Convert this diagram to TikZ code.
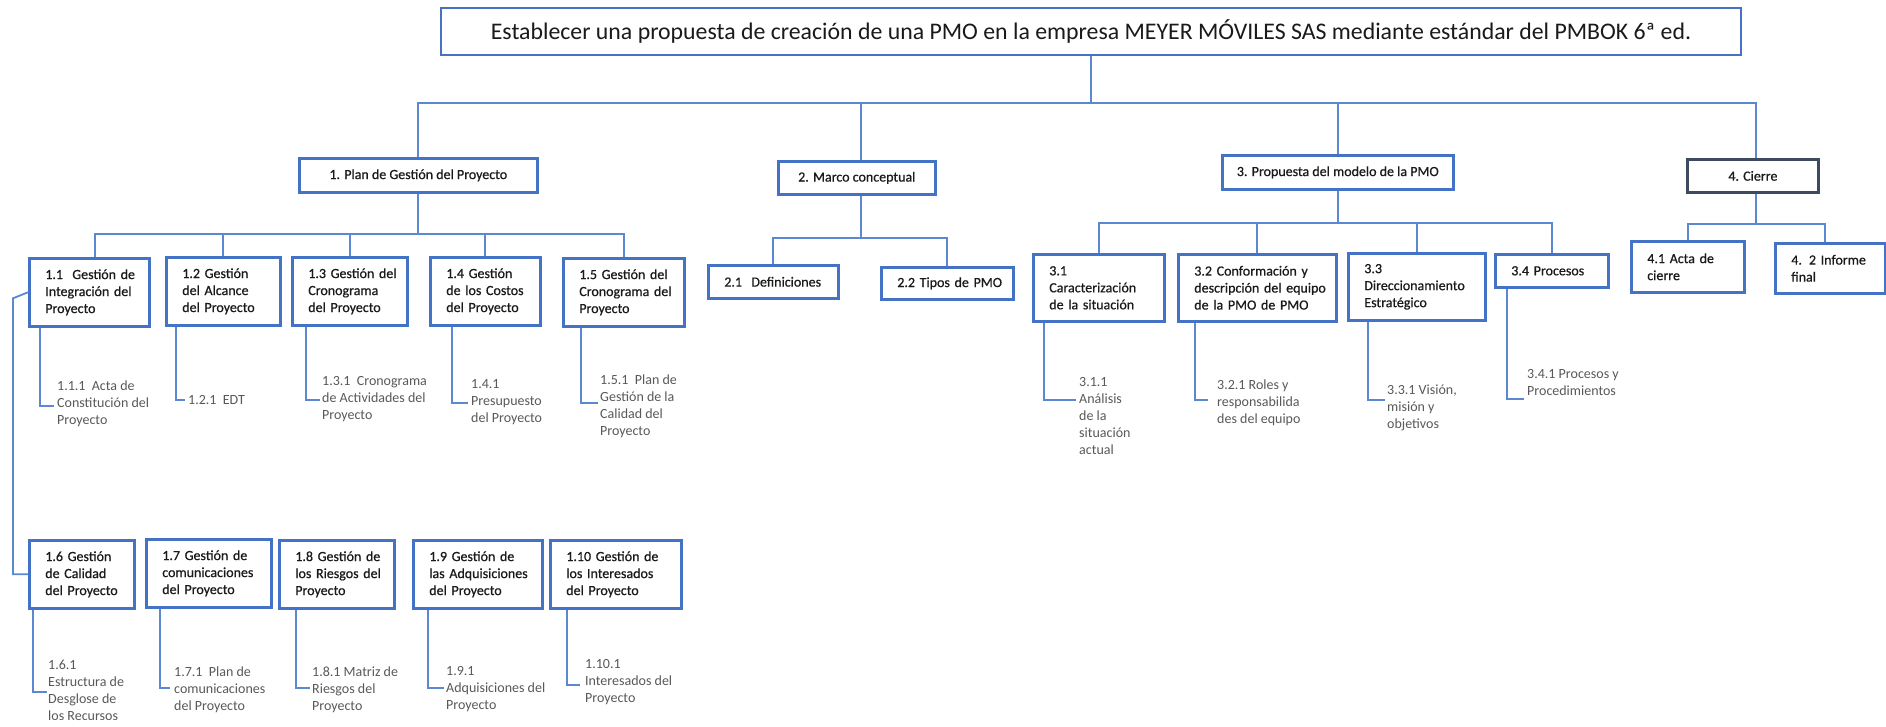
\documentclass[tikz,border=0pt]{standalone}
\usepackage{fontspec}
\setmainfont{Carlito}
\newfontfamily\bxfont{Carlito}[FakeBold=0.6]
\usetikzlibrary{calc}
\definecolor{bblue}{HTML}{4472C4}
\definecolor{lblue}{HTML}{5B88D0}
\definecolor{dgray}{HTML}{3E4B5E}
\definecolor{tgray}{HTML}{595959}
\definecolor{btext}{HTML}{1A1A1A}
\newcommand{\wl}[1]{\mbox{#1}}
\begin{document}
\begin{tikzpicture}[x=1pt,y=-1pt,
  bx/.style={draw=bblue, line width=2.6pt, fill=white, inner xsep=16pt, inner ysep=0pt,
    align=left, anchor=north west, text=btext, font=\bxfont\fontsize{14}{17}\selectfont},
  topbx/.style={draw=bblue, line width=2.6pt, fill=white, inner sep=0pt, align=center,
    anchor=north west, text=btext, font=\bxfont\fontsize{14}{17}\selectfont},
  conn/.style={draw=lblue, line width=1.8pt},
  sub/.style={draw=lblue, line width=1.5pt},
  lab/.style={anchor=north west, inner sep=0pt, align=left, text=tgray,
    font=\fontsize{14}{17}\selectfont, execute at begin node=\strut}
]
\useasboundingbox (0,0) rectangle (1886,726);
\fill[white] (0,0) rectangle (1886,726);

% title
\node[draw=bblue, line width=2.8pt, minimum width=1300pt, minimum height=47pt, inner sep=0pt,
  text=btext, font=\fontsize{23.8}{28}\selectfont] (title) at (1091,31.5)
  {Establecer una propuesta de creación de una PMO en la empresa MEYER MÓVILES SAS mediante estándar del PMBOK 6ª ed.};

% level 1
\node[topbx, minimum width=238pt, minimum height=34pt] (b1) at (298,157) {1. Plan de Gestión del Proyecto};
\node[topbx, minimum width=157pt, minimum height=33pt] (b2) at (777,160) {2. Marco conceptual};
\node[topbx, minimum width=231pt, minimum height=34pt] (b3) at (1221,154) {3. Propuesta del modelo de la PMO};
\node[topbx, draw=dgray, line width=2.8pt, minimum width=131pt, minimum height=33pt] (b4) at (1686,158) {4. Cierre};

% level 2, branch 1
\node[bx, minimum width=120pt, minimum height=68pt, text width=88pt] (b11) at (28,257) {\wl{1.1\ \ Gestión de}\\\wl{Integración del}\\Proyecto};
\node[bx, minimum width=114pt, minimum height=68pt, text width=82pt] (b12) at (165,256) {1.2 Gestión\\del Alcance\\\wl{del Proyecto}};
\node[bx, minimum width=115pt, minimum height=68pt, text width=83pt] (b13) at (291,256) {\wl{1.3 Gestión del}\\Cronograma\\\wl{del Proyecto}};
\node[bx, minimum width=110pt, minimum height=68pt, text width=78pt] (b14) at (429,256) {1.4 Gestión\\\wl{de los Costos}\\\wl{del Proyecto}};
\node[bx, minimum width=121pt, minimum height=68pt, text width=89pt] (b15) at (562,257) {\wl{1.5 Gestión del}\\\wl{Cronograma del}\\Proyecto};

\node[bx, minimum width=105pt, minimum height=68pt, text width=73pt] (b16) at (28,539) {1.6 Gestión\\de Calidad\\\wl{del Proyecto}};
\node[bx, minimum width=125pt, minimum height=68pt, text width=93pt] (b17) at (145,538) {\wl{1.7 Gestión de}\\\wl{comunicaciones}\\\wl{del Proyecto}};
\node[bx, minimum width=115pt, minimum height=68pt, text width=83pt] (b18) at (278,539) {\wl{1.8 Gestión de}\\\wl{los Riesgos del}\\Proyecto};
\node[bx, minimum width=129pt, minimum height=68pt, text width=97pt] (b19) at (412,539) {\wl{1.9 Gestión de}\\\wl{las Adquisiciones}\\\wl{del Proyecto}};
\node[bx, minimum width=131pt, minimum height=68pt, text width=99pt] (b110) at (549,539) {\wl{1.10 Gestión de}\\\wl{los Interesados}\\\wl{del Proyecto}};

% level 2, branch 2
\node[bx, minimum width=130pt, minimum height=33pt, text width=98pt] (b21) at (707,264) {\wl{2.1\ \ Definiciones}};
\node[bx, minimum width=132pt, minimum height=32pt, text width=100pt] (b22) at (880,266) {\wl{2.2 Tipos de PMO}};

% level 2, branch 3
\node[bx, minimum width=131pt, minimum height=67pt, text width=99pt] (b31) at (1032,253) {3.1\\\wl{Caracterización}\\\wl{de la situación}};
\node[bx, minimum width=158pt, minimum height=67pt, text width=126pt] (b32) at (1177,253) {\wl{3.2 Conformación y}\\\wl{descripción del equipo}\\\wl{de la PMO de PMO}};
\node[bx, minimum width=137pt, minimum height=67pt, text width=105pt] (b33) at (1347,252) {3.3\\\wl{Direccionamiento}\\Estratégico};
\node[bx, minimum width=113pt, minimum height=33pt, text width=81pt] (b34) at (1494,253) {\wl{3.4 Procesos}};

% level 2, branch 4
\node[bx, minimum width=113pt, minimum height=51pt, text width=81pt] (b41) at (1630,240) {\wl{4.1 Acta de}\\cierre};
\node[bx, minimum width=110pt, minimum height=50pt, text width=78pt] (b42) at (1774,242) {\wl{4. 2 Informe}\\final};

% buses
\coordinate (busTop) at (0,103);
\coordinate (bus1) at (0,234);
\coordinate (bus2) at (0,238);
\coordinate (bus3) at (0,223);
\coordinate (bus4) at (0,224);

\draw[conn] (title.south) -- (title.south |- busTop);
\draw[conn] (b1.north) -- (b1.north |- busTop) -- ([xshift=3pt]b4.north |- busTop) -- ([xshift=3pt]b4.north);
\draw[conn] ([xshift=4pt]b2.north) -- ([xshift=4pt]b2.north |- busTop);
\draw[conn] (b3.north) -- (b3.north |- busTop);

\draw[conn] (b1.south) -- (b1.south |- bus1);
\draw[conn] ([xshift=6pt]b11.north) -- ([xshift=6pt]b11.north |- bus1) -- (b15.north |- bus1) -- (b15.north);
\foreach \n in {b12,b13,b14} \draw[conn] (\n.north) -- (\n.north |- bus1);

\draw[conn] ([xshift=4pt]b2.south) -- ([xshift=4pt]b2.south |- bus2);
\draw[conn] (b21.north) -- (b21.north |- bus2) -- (b22.north |- bus2) -- (b22.north);

\draw[conn] (b3.south) -- (b3.south |- bus3);
\draw[conn] (b31.north) -- (b31.north |- bus3) -- (b34.north |- bus3) -- (b34.north);
\foreach \n in {b32,b33} \draw[conn] (\n.north) -- (\n.north |- bus3);

\draw[conn] ([xshift=3pt]b4.south) -- ([xshift=3pt]b4.south |- bus4);
\draw[conn] (b41.north) -- (b41.north |- bus4) -- ([xshift=-5pt]b42.north |- bus4) -- ([xshift=-5pt]b42.north);

% 1.1 -> 1.6
\draw[conn] (b11.west) -- ++(-15,6) |- (b16.west);

% sub labels
\node[lab] (l111) at (57,380.6) {1.1.1\ \ Acta de\\Constitución del\\Proyecto};
\node[lab] (l121) at (188,392.6) {1.2.1\ \ EDT};
\node[lab] (l131) at (322,376.6) {1.3.1\ \ Cronograma\\de Actividades del\\Proyecto};
\node[lab] (l141) at (471,379.6) {1.4.1\\Presupuesto\\del Proyecto};
\node[lab] (l151) at (600,374.6) {1.5.1\ \ Plan de\\Gestión de la\\Calidad del\\Proyecto};
\node[lab] (l161) at (48,659.6) {1.6.1\\Estructura de\\Desglose de\\los Recursos};
\node[lab] (l171) at (174,666.6) {1.7.1\ \ Plan de\\comunicaciones\\del Proyecto};
\node[lab] (l181) at (312,666.6) {1.8.1 Matriz de\\Riesgos del\\Proyecto};
\node[lab] (l191) at (446,666.6) {1.9.1\\Adquisiciones del\\Proyecto};
\node[lab] (l1101) at (585,659.6) {1.10.1\\Interesados del\\Proyecto};
\node[lab] (l311) at (1079,377.6) {3.1.1\\Análisis\\de la\\situación\\actual};
\node[lab] (l321) at (1217,379.6) {3.2.1 Roles y\\responsabilida\\des del equipo};
\node[lab] (l331) at (1387,384.6) {3.3.1 Visión,\\misión y\\objetivos};
\node[lab] (l341) at (1527,369.6) {3.4.1 Procesos y\\Procedimientos};

% elbow ends
\coordinate (e111) at (54,406);
\coordinate (e121) at (185,400);
\coordinate (e131) at (320,400);
\coordinate (e141) at (468,403);
\coordinate (e151) at (598,403);
\coordinate (e161) at (47,692);
\coordinate (e171) at (170,688);
\coordinate (e181) at (310,688);
\coordinate (e191) at (444,688);
\coordinate (e1101) at (580,685);
\coordinate (e311) at (1076,400);
\coordinate (e321) at (1208,400);
\coordinate (e331) at (1385,400);
\coordinate (e341) at (1524,399);

\draw[sub] ([xshift=12pt]b11.south west) |- (e111);
\draw[sub] ([xshift=11pt]b12.south west) |- (e121);
\draw[sub] ([xshift=15pt]b13.south west) |- (e131);
\draw[sub] ([xshift=23pt]b14.south west) |- (e141);
\draw[sub] ([xshift=19pt]b15.south west) |- (e151);
\draw[sub] ([xshift=5pt]b16.south west) |- (e161);
\draw[sub] ([xshift=15pt]b17.south west) |- (e171);
\draw[sub] ([xshift=18pt]b18.south west) |- (e181);
\draw[sub] ([xshift=16pt]b19.south west) |- (e191);
\draw[sub] ([xshift=18pt]b110.south west) |- (e1101);
\draw[sub] ([xshift=12pt]b31.south west) |- (e311);
\draw[sub] ([xshift=18pt]b32.south west) |- (e321);
\draw[sub] ([xshift=21pt]b33.south west) |- (e331);
\draw[sub] ([xshift=13pt]b34.south west) |- (e341);
\end{tikzpicture}
\end{document}
